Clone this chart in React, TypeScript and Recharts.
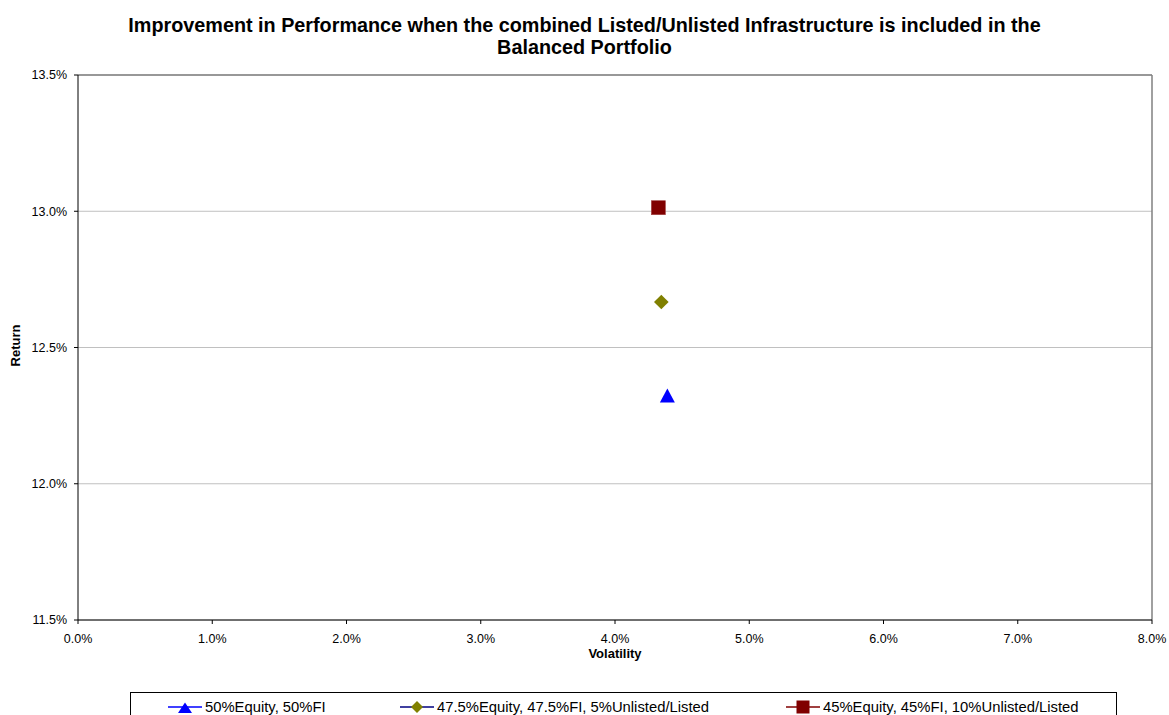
import React from 'react';
import { ScatterChart, Scatter, XAxis, YAxis, CartesianGrid, ReferenceLine } from 'recharts';

const seriesNames = [
  '50%Equity, 50%FI',
  '47.5%Equity, 47.5%FI, 5%Unlisted/Listed',
  '45%Equity, 45%FI, 10%Unlisted/Listed',
];
const equity50 = [{ vol: 4.39, ret: 12.324 }];
const equity475 = [{ vol: 4.345, ret: 12.667 }];
const equity45 = [{ vol: 4.323, ret: 13.013 }];
const xTicks = [0, 1, 2, 3, 4, 5, 6, 7, 8];
const yTicks = [11.5, 12, 12.5, 13, 13.5];

const FONT = '"Liberation Sans", Arial, sans-serif';
const fmt = (v: number) => v.toFixed(1) + '%';

const Triangle = (p: any) => {
  const { cx, cy } = p;
  return <polygon points={`${cx},${cy - 7} ${cx - 7.5},${cy + 7} ${cx + 7.5},${cy + 7}`} fill="#0000ff" />;
};
const Diamond = (p: any) => {
  const { cx, cy } = p;
  return <polygon points={`${cx},${cy - 7.3} ${cx + 7.3},${cy} ${cx},${cy + 7.3} ${cx - 7.3},${cy}`} fill="#808000" />;
};
const Square = (p: any) => {
  const { cx, cy } = p;
  return <rect x={cx - 7} y={cy - 7} width={14} height={14} fill="#800000" stroke="#a04040" strokeWidth={0.6} />;
};

const legendIcons = [
  { line: '#0000ff', icon: <polygon points="17,3.5 10,14 24,14" fill="#0000ff" /> },
  { line: '#000080', icon: <polygon points="17,2 23,8 17,14 11,8" fill="#808000" /> },
  { line: '#800000', icon: <rect x={10.5} y={1.5} width={13} height={13} fill="#800000" /> },
];
const legendLeft = [168, 400, 786];

export default function App() {
  return (
    <div style={{ position: 'absolute', left: 0, top: 0, width: 1169, height: 715, background: '#fff', fontFamily: FONT, overflow: 'hidden' }}>
      <div style={{ position: 'absolute', left: 0, top: 14, width: 1169, textAlign: 'center', fontWeight: 'bold', fontSize: 19.8, lineHeight: '22px', color: '#000' }}>
        Improvement in Performance when the combined Listed/Unlisted Infrastructure is included in the
        <br />
        Balanced Portfolio
      </div>
      <div style={{ position: 'absolute', left: 0, top: 0 }}>
        <ScatterChart width={1169} height={715} margin={{ top: 75, right: 17, bottom: 65, left: 0 }}>
          <CartesianGrid vertical={false} stroke="#c0c0c0" />
          <XAxis
            type="number"
            dataKey="vol"
            domain={[0, 8]}
            ticks={xTicks}
            tickFormatter={fmt}
            height={30}
            axisLine={{ stroke: '#000' }}
            tickLine={{ stroke: '#000' }}
            tickSize={4}
            tickMargin={10}
            tick={{ fill: '#000', fontSize: 12.5, fontFamily: FONT }}
            label={{
              content: (props: any) => {
                const vb = props.viewBox;
                return (
                  <text x={vb.x + vb.width / 2} y={vb.y + 37.5} textAnchor="middle" fontWeight="bold" fontSize={13} fontFamily={FONT} fill="#000">
                    Volatility
                  </text>
                );
              },
            }}
          />
          <YAxis
            type="number"
            dataKey="ret"
            domain={[11.5, 13.5]}
            ticks={yTicks}
            tickFormatter={fmt}
            width={78}
            axisLine={{ stroke: '#000' }}
            tickLine={{ stroke: '#000' }}
            tickSize={4}
            tickMargin={7}
            tick={{ fill: '#000', fontSize: 12.5, fontFamily: FONT }}
            label={{
              content: (props: any) => {
                const vb = props.viewBox;
                const cx = 15;
                const cy = vb.y + vb.height / 2 - 2;
                return (
                  <text x={cx} y={cy} transform={`rotate(-90 ${cx} ${cy})`} textAnchor="middle" dominantBaseline="central" fontWeight="bold" fontSize={13} fontFamily={FONT} fill="#000">
                    Return
                  </text>
                );
              },
            }}
          />
          <ReferenceLine y={13.5} stroke="#808080" strokeWidth={1.5} />
          <ReferenceLine x={8} stroke="#808080" strokeWidth={1.5} />
          <Scatter name={seriesNames[0]} data={equity50} shape={Triangle} isAnimationActive={false} />
          <Scatter name={seriesNames[1]} data={equity475} shape={Diamond} isAnimationActive={false} />
          <Scatter name={seriesNames[2]} data={equity45} shape={Square} isAnimationActive={false} />
        </ScatterChart>
      </div>
      <div style={{ position: 'absolute', left: 130, top: 692, width: 987, height: 40, border: '1px solid #000', boxSizing: 'border-box' }} />
      {seriesNames.map((name, i) => (
        <div key={name} style={{ position: 'absolute', left: legendLeft[i], top: 698, height: 17, display: 'flex', alignItems: 'center', fontSize: 14.8, color: '#000', whiteSpace: 'nowrap' }}>
          <svg width={36} height={16} style={{ display: 'block' }}>
            <line x1={0} y1={8} x2={34} y2={8} stroke={legendIcons[i].line} strokeWidth={1.5} />
            {legendIcons[i].icon}
          </svg>
          <span style={{ marginLeft: 1 }}>{name}</span>
        </div>
      ))}
    </div>
  );
}
